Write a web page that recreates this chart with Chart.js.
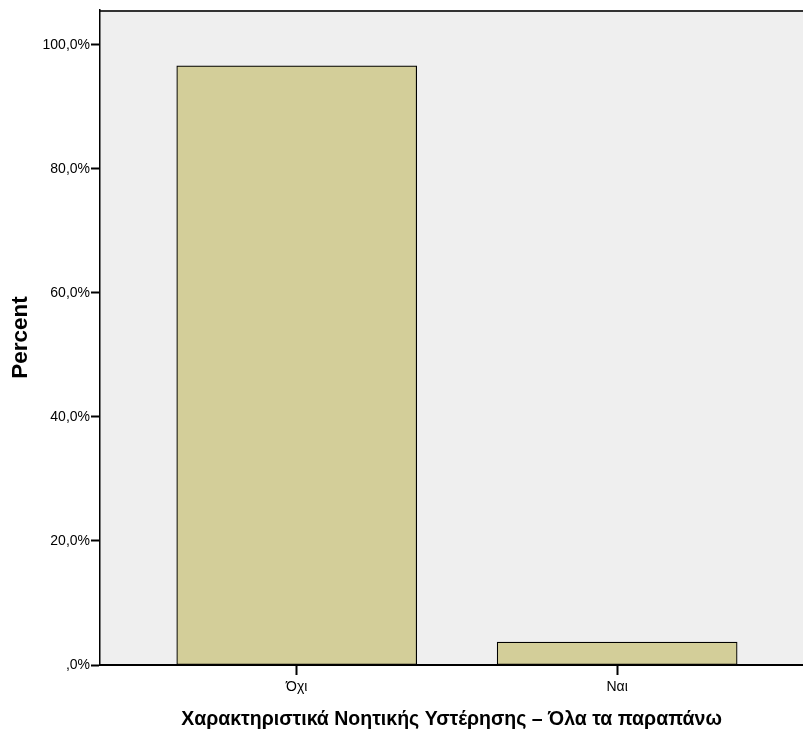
<!DOCTYPE html>
<html>
<head>
<meta charset="utf-8">
<script src="https://cdn.jsdelivr.net/npm/chart.js@4"></script>
<style>
  body { margin: 0; background: #fff; }
  canvas { display: block; }
</style>
</head>
<body>
<canvas id="chart" width="803" height="735"></canvas>
<script>
// data
const categories = ['Όχι', 'Ναι'];
const percents = [96.6, 3.7];
const yTicks = [0, 20, 40, 60, 80, 100];
const xTitle = 'Χαρακτηριστικά Νοητικής Υστέρησης – Όλα τα παραπάνω';
const yTitle = 'Percent';

// grey plot background + top frame line
const plotBg = {
    id: 'plotBg',
    beforeDraw(chart) {
        const { ctx, chartArea: a } = chart;
        ctx.save();
        ctx.fillStyle = '#efefef';
        ctx.fillRect(a.left, a.top, a.right - a.left, a.bottom - a.top);
        ctx.strokeStyle = '#333';
        ctx.lineWidth = 2;
        ctx.beginPath();
        ctx.moveTo(a.left, a.top + 1);
        ctx.lineTo(a.right, a.top + 1);
        ctx.stroke();
        ctx.restore();
    }
};

function fmtPct(v) {
    if (v === 0) return ',0%';
    return v.toFixed(1).replace('.', ',') + '%';
}

const ctx = document.getElementById('chart').getContext('2d');
new Chart(ctx, {
    type: 'bar',
    data: {
        datasets: [{
            data: categories.map((c, i) => ({ x: i + 1, y: percents[i] })),
            backgroundColor: '#d3ce99',
            borderColor: '#000',
            borderWidth: 1.2,
            borderSkipped: false,
            barThickness: 240
        }]
    },
    options: {
        responsive: false,
        animation: false,
        layout: { padding: { top: 10, right: 0, left: 0, bottom: 0 } },
        plugins: { legend: { display: false }, tooltip: { enabled: false } },
        scales: {
            x: {
                type: 'linear',
                offset: false,
                min: 0.386,
                max: 2.58,
                afterBuildTicks: s => { s.ticks = categories.map((c, i) => ({ value: i + 1 })); },
                afterFit: s => { s.height = 70; },
                grid: { display: true, offset: false, drawOnChartArea: false, tickLength: 10, tickColor: '#000', tickWidth: 2 },
                border: { display: true, color: '#000', width: 2 },
                ticks: {
                    color: '#000',
                    padding: 4,
                    maxRotation: 0,
                    font: { family: 'Arial, "Liberation Sans"', size: 14 },
                    callback: v => categories[Math.round(v) - 1]
                },
                title: {
                    display: true,
                    text: xTitle,
                    color: '#000',
                    padding: { top: 4, bottom: 4 },
                    font: { family: 'Arial, "Liberation Sans"', size: 19.5, weight: 'bold' }
                }
            },
            y: {
                min: 0,
                max: 105.6,
                afterBuildTicks: s => { s.ticks = yTicks.map(v => ({ value: v })); },
                afterFit: s => { s.width = 100; },
                grid: { display: true, drawOnChartArea: false, tickLength: 9, tickColor: '#000', tickWidth: 2 },
                border: { display: true, color: '#000', width: 1.5 },
                ticks: {
                    color: '#000',
                    padding: 1,
                    font: { family: 'Arial, "Liberation Sans"', size: 14 },
                    callback: v => fmtPct(v)
                },
                title: {
                    display: true,
                    text: yTitle,
                    color: '#000',
                    padding: { top: 7, bottom: 4 },
                    font: { family: 'Arial, "Liberation Sans"', size: 22.5, weight: 'bold' }
                }
            }
        }
    },
    plugins: [plotBg]
});
</script>
</body>
</html>
